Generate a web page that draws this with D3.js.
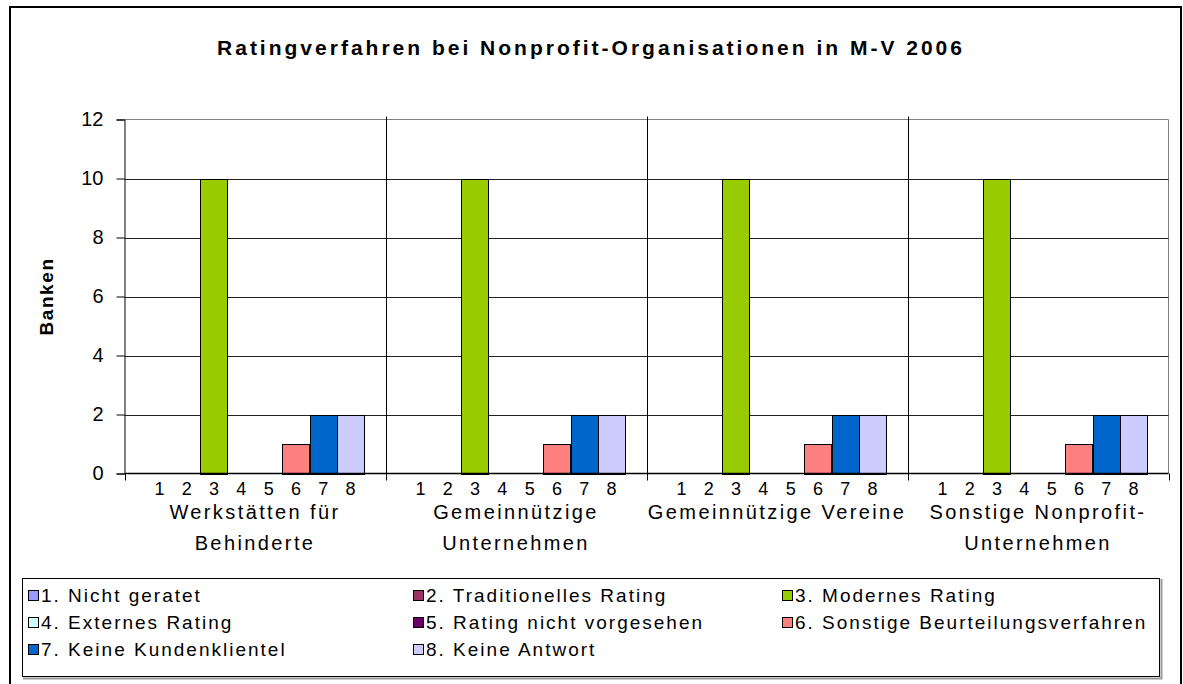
<!DOCTYPE html>
<html>
<head>
<meta charset="utf-8">
<script src="https://cdn.jsdelivr.net/npm/d3@7"></script>
<style>
	body { margin: 0; background: #fff; }
	svg { display: block; font-family: "Liberation Sans", Arial, sans-serif; }
</style>
</head>
<body>
<div id="chart"></div>
<script>
// categories (groups on the x axis), each split in display lines
var groups = ["Werkstätten für Behinderte", "Gemeinnützige Unternehmen", "Gemeinnützige Vereine", "Sonstige Nonprofit-Unternehmen"];
var groupLines = [["Werkstätten für", "Behinderte"], ["Gemeinnützige", "Unternehmen"], ["Gemeinnützige Vereine"], ["Sonstige Nonprofit-", "Unternehmen"]];

// series
var seriesKeys = ["1", "2", "3", "4", "5", "6", "7", "8"];
var seriesNames = ["1. Nicht geratet", "2. Traditionelles Rating", "3. Modernes Rating",
	"4. Externes Rating", "5. Rating nicht vorgesehen", "6. Sonstige Beurteilungsverfahren",
	"7. Keine Kundenklientel", "8. Keine Antwort"];
var seriesColors = ["#9999ff", "#993366", "#99cc00", "#ccffff", "#660066", "#ff8080", "#0066cc", "#ccccff"];

// values per group, one per series
var values = [
	[0, 0, 10, 0, 0, 1, 2, 2],
	[0, 0, 10, 0, 0, 1, 2, 2],
	[0, 0, 10, 0, 0, 1, 2, 2],
	[0, 0, 10, 0, 0, 1, 2, 2]
];

var yTicks = [0, 2, 4, 6, 8, 10, 12];

var title = "Ratingverfahren bei Nonprofit-Organisationen in M-V 2006",
	yTitle = "Banken";

var width = 1183,
	height = 684,
	plot = { left: 124.5, right: 1168.5, top: 119.5, bottom: 473.5 };

var svg = d3.select("#chart").append("svg")
	.attr("width", width)
	.attr("height", height);

// outer chart border
svg.append("rect")
	.attr("x", 10).attr("y", 7)
	.attr("width", 1171).attr("height", 700)
	.attr("fill", "#fff")
	.attr("stroke", "#000")
	.attr("stroke-width", 2);

svg.append("text")
	.attr("x", 591)
	.attr("y", 55)
	.attr("text-anchor", "middle")
	.style("font-size", "21px")
	.style("font-weight", "bold")
	.style("letter-spacing", "3px")
	.text(title);

var x0 = d3.scaleBand()
	.domain(groups)
	.range([plot.left, plot.right]);

var x1 = d3.scaleBand()
	.domain(seriesKeys)
	.range([0, x0.bandwidth()])
	.paddingOuter(0.78);

var y = d3.scaleLinear()
	.domain([0, 12])
	.range([plot.bottom, plot.top]);

var g = svg.append("g");

// plot area border (top, right)
g.append("path")
	.attr("d", "M" + plot.left + "," + plot.top + "H" + plot.right + "V" + plot.bottom)
	.attr("fill", "none")
	.attr("stroke", "#808080");

// horizontal gridlines
g.selectAll("line.grid")
	.data(yTicks.slice(1, -1))
	.join("line")
	.attr("class", "grid")
	.attr("x1", plot.left).attr("x2", plot.right)
	.attr("y1", function (d) { return Math.round(y(d)) + 0.5; })
	.attr("y2", function (d) { return Math.round(y(d)) + 0.5; })
	.attr("stroke", "#222");

// category separators + ticks below the axis
var seps = groups.map(function (d) { return x0(d); }).concat([plot.right]);
g.selectAll("line.sep")
	.data(seps)
	.join("line")
	.attr("class", "sep")
	.attr("x1", function (d) { return Math.round(d) + 0.5; })
	.attr("x2", function (d) { return Math.round(d) + 0.5; })
	.attr("y1", function (d, i) { return (i == 0 || i == seps.length - 1) ? plot.bottom : plot.top - 3; })
	.attr("y2", plot.bottom + 7)
	.attr("stroke", "#000");

// bars
var bars = g.append("g");
groups.forEach(function (grp, gi) {
	bars.selectAll("rect.b" + gi)
		.data(values[gi].map(function (v, si) { return { k: seriesKeys[si], v: v, c: seriesColors[si] }; })
			.filter(function (d) { return d.v > 0; }))
		.join("rect")
		.attr("x", function (d) { return Math.round(x0(grp) + x1(d.k)) + 0.5; })
		.attr("y", function (d) { return Math.round(y(d.v)) + 0.5; })
		.attr("width", Math.round(x1.bandwidth()))
		.attr("height", function (d) { return Math.round(y(0)) - Math.round(y(d.v)); })
		.attr("fill", function (d) { return d.c; })
		.attr("stroke", "#000");
});

// y axis
var yAxis = g.append("g")
	.attr("transform", "translate(" + plot.left + ",0)")
	.call(d3.axisLeft(y).tickValues(yTicks).tickSize(8).tickPadding(13));
yAxis.select(".domain").attr("stroke", "#000");
yAxis.selectAll(".tick line").attr("stroke", "#000");
yAxis.selectAll(".tick text")
	.style("font-size", "20px")
	.attr("fill", "#000");

// x axis line
g.append("line")
	.attr("x1", plot.left).attr("x2", plot.right)
	.attr("y1", plot.bottom).attr("y2", plot.bottom)
	.attr("stroke", "#000")
	.attr("stroke-width", 1.5);

// series numbers under bars
groups.forEach(function (grp, gi) {
	g.selectAll("text.n" + gi)
		.data(seriesKeys)
		.join("text")
		.attr("class", "n" + gi)
		.attr("x", function (d) { return x0(grp) + x1(d) + x1.bandwidth() / 2; })
		.attr("y", plot.bottom + 21)
		.attr("text-anchor", "middle")
		.style("font-size", "18px")
		.text(function (d) { return d; });
});

// group labels
groups.forEach(function (grp, gi) {
	g.selectAll("text.c" + gi)
		.data(groupLines[gi])
		.join("text")
		.attr("class", "c" + gi)
		.attr("x", x0(grp) + x0.bandwidth() / 2)
		.attr("y", function (d, i) { return plot.bottom + 45 + i * 31; })
		.attr("text-anchor", "middle")
		.style("font-size", "20px")
		.style("letter-spacing", "2.4px")
		.text(function (d) { return d; });
});

// y title
svg.append("text")
	.attr("transform", "translate(53," + (plot.top + plot.bottom) / 2 + ") rotate(-90)")
	.attr("text-anchor", "middle")
	.style("font-size", "19px")
	.style("font-weight", "bold")
	.style("letter-spacing", "1.6px")
	.text(yTitle);

// legend
var legend = svg.append("g");
legend.append("path")
	.attr("d", "M23,678.5H1161.5V579")
	.attr("fill", "none")
	.attr("stroke", "#999")
	.attr("stroke-width", 2);
legend.append("rect")
	.attr("x", 22.5).attr("y", 578.5)
	.attr("width", 1137).attr("height", 98)
	.attr("fill", "#fff")
	.attr("stroke", "#000");

var colX = [28, 413, 782],
	rowY = [595, 622, 649];

var items = legend.selectAll("g.item")
	.data(seriesNames)
	.join("g")
	.attr("class", "item")
	.attr("transform", function (d, i) { return "translate(" + colX[i % 3] + "," + rowY[Math.floor(i / 3)] + ")"; });

items.append("rect")
	.attr("x", 0.5).attr("y", -4.5)
	.attr("width", 10).attr("height", 10)
	.attr("fill", function (d, i) { return seriesColors[i]; })
	.attr("stroke", "#000");

items.append("text")
	.attr("x", 13)
	.attr("y", 6.5)
	.style("font-size", "19px")
	.style("letter-spacing", "2px")
	.text(function (d) { return d; });
</script>
</body>
</html>
